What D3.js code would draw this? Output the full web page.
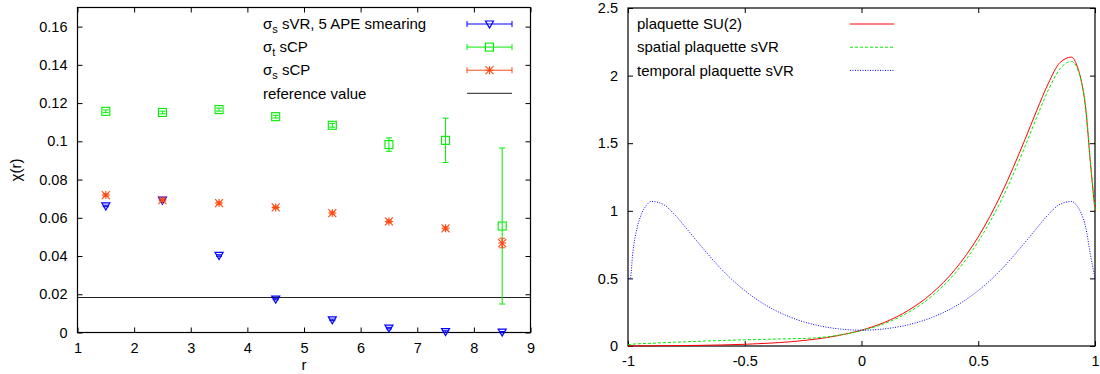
<!DOCTYPE html>
<head>
  <meta charset="utf-8">
  <script src="https://d3js.org/d3.v7.min.js"></script>
  <style>
    body { margin: 0; background: #fff; }
    svg { display: block; }
    text { font-family: "Liberation Sans", Arial, sans-serif; fill: #000; }
    .tick text { font-size: 14.5px; }
  </style>
</head>

<body>
  <svg width="1100" height="374"></svg>
  <script>
    // ---- left panel: chi(r) against r
    var rValues = [1.5, 2.5, 3.5, 4.5, 5.5, 6.5, 7.5, 8.5];
    var sigmaS_sVR = [0.0662, 0.0692, 0.0403, 0.0175, 0.0066, 0.0023, 0.0005, 0.0002];
    var sigmaS_sVR_err = [0.0004, 0.0004, 0.0004, 0.0004, 0.0004, 0.0004, 0.0004, 0.0003];
    var sigmaT_sCP = [0.1157, 0.1151, 0.1166, 0.1129, 0.1084, 0.0983, 0.1005, 0.0557];
    var sigmaT_sCP_err = [0.0007, 0.0007, 0.0008, 0.0007, 0.0010, 0.0035, 0.0116, 0.0408];
    var sigmaS_sCP = [0.0719, 0.0693, 0.0677, 0.0654, 0.0625, 0.0581, 0.0545, 0.0468];
    var sigmaS_sCP_err = [0.0006, 0.0006, 0.0006, 0.0006, 0.0006, 0.0007, 0.0008, 0.0025];
    var referenceValue = 0.0183;
    var leftXTicks = [1, 2, 3, 4, 5, 6, 7, 8, 9];
    var leftYTicks = [0, 0.02, 0.04, 0.06, 0.08, 0.1, 0.12, 0.14, 0.16];

    // ---- right panel: plaquette distributions
    var uValues = [-1, -0.99, -0.98, -0.96, -0.94, -0.92, -0.9, -0.85, -0.8, -0.75, -0.7, -0.6, -0.5, -0.4, -0.3, -0.2, -0.1,
                   0, 0.1, 0.2, 0.3, 0.4, 0.5, 0.6, 0.7, 0.75, 0.8, 0.85, 0.9, 0.92, 0.94, 0.96, 0.98, 1];
    var plaqSU2 = [0, 0, 0.0005, 0.0008, 0.001, 0.0011, 0.0012, 0.0018, 0.0025, 0.0035, 0.0046, 0.0078, 0.0127, 0.0204, 0.032, 0.05, 0.077,
                   0.117, 0.176, 0.263, 0.388, 0.564, 0.807, 1.129, 1.527, 1.74, 1.942, 2.096, 2.137, 2.086, 1.97, 1.76, 1.36, 1.0];
    var plaqSpatial = [0.01, 0.012, 0.014, 0.016, 0.018, 0.019, 0.02, 0.024, 0.028, 0.031, 0.035, 0.041, 0.046, 0.05, 0.054, 0.06, 0.079,
                       0.114, 0.167, 0.248, 0.367, 0.537, 0.772, 1.083, 1.475, 1.69, 1.893, 2.05, 2.105, 2.068, 1.965, 1.77, 1.38, 1.0];
    var plaqTemporal = [0.5, 0.5, 0.68, 0.88, 0.985, 1.043, 1.069, 1.048, 0.972, 0.87, 0.766, 0.568, 0.41, 0.292, 0.21, 0.157, 0.127,
                        0.117, 0.127, 0.157, 0.21, 0.292, 0.41, 0.568, 0.766, 0.87, 0.972, 1.048, 1.069, 1.043, 0.985, 0.88, 0.68, 0.5];
    var rightXTicks = [-1, -0.5, 0, 0.5, 1];
    var rightYTicks = [0, 0.5, 1, 1.5, 2, 2.5];

    var blue = '#0000ff', green = '#00ee00', orange = '#ff4a10', red = '#ff0000';

    var svg = d3.select('svg');

    // scales
    var xL = d3.scaleLinear().domain([1, 9]).range([77.5, 530.5]);
    var yL = d3.scaleLinear().domain([0, 0.17]).range([332.5, 7.5]);
    var xR = d3.scaleLinear().domain([-1, 1]).range([628, 1095]);
    var yR = d3.scaleLinear().domain([0, 2.5]).range([346, 8]);

    function frame(x, y, xTicks, yTicks) {
      var g = svg.append('g').style('color', '#000');
      var x0 = x.range()[0], x1 = x.range()[1], y0 = y.range()[0], y1 = y.range()[1];
      g.append('g').attr('transform', 'translate(0,' + y0 + ')')
        .call(d3.axisBottom(x).tickValues(xTicks).tickSizeInner(-5).tickSizeOuter(0).tickPadding(10).tickFormat(String));
      g.append('g').attr('transform', 'translate(0,' + y1 + ')')
        .call(d3.axisTop(x).tickValues(xTicks).tickSizeInner(-5).tickSizeOuter(0).tickFormat(''));
      g.append('g').attr('transform', 'translate(' + x0 + ',0)')
        .call(d3.axisLeft(y).tickValues(yTicks).tickSizeInner(-5).tickSizeOuter(0).tickPadding(10).tickFormat(String));
      g.append('g').attr('transform', 'translate(' + x1 + ',0)')
        .call(d3.axisRight(y).tickValues(yTicks).tickSizeInner(-5).tickSizeOuter(0).tickFormat(''));
      g.selectAll('.domain').remove();
      g.append('rect')
        .attr('x', x0).attr('y', y1).attr('width', x1 - x0).attr('height', y0 - y1)
        .attr('fill', 'none').attr('stroke', '#000').attr('stroke-width', 1.2);
    }

    frame(xL, yL, leftXTicks, leftYTicks);
    frame(xR, yR, rightXTicks, rightYTicks);

    // axis titles of the left panel
    svg.append('text').attr('transform', 'translate(21,170) rotate(-90)')
      .attr('text-anchor', 'middle').style('font-size', '15px').text('χ(r)');
    svg.append('text').attr('x', 304).attr('y', 370)
      .attr('text-anchor', 'middle').style('font-size', '15px').text('r');

    // markers
    function triangle(g, cx, cy, c) {
      g.append('path').attr('d', 'M' + (cx - 4) + ',' + (cy - 3) + 'L' + (cx + 4) + ',' + (cy - 3) + 'L' + cx + ',' + (cy + 4) + 'Z')
        .attr('fill', 'none').attr('stroke', c).attr('stroke-width', 1.2);
    }
    function square(g, cx, cy, c) {
      g.append('rect').attr('x', cx - 4).attr('y', cy - 4).attr('width', 8).attr('height', 8)
        .attr('fill', 'none').attr('stroke', c).attr('stroke-width', 1.1);
    }
    function star(g, cx, cy, c) {
      var s = 4;
      g.append('path')
        .attr('d', 'M' + (cx - s) + ',' + cy + 'H' + (cx + s) + 'M' + cx + ',' + (cy - s) + 'V' + (cy + s) +
                   'M' + (cx - s) + ',' + (cy - s) + 'L' + (cx + s) + ',' + (cy + s) +
                   'M' + (cx - s) + ',' + (cy + s) + 'L' + (cx + s) + ',' + (cy - s))
        .attr('stroke', c).attr('stroke-width', 1.1);
    }

    function errorSeries(vals, errs, color, marker) {
      var g = svg.append('g');
      rValues.forEach(function(r, i) {
        var cx = xL(r), top = yL(vals[i] + errs[i]), bot = yL(vals[i] - errs[i]);
        g.append('path')
          .attr('d', 'M' + cx + ',' + top + 'V' + bot + 'M' + (cx - 3) + ',' + top + 'H' + (cx + 3) + 'M' + (cx - 3) + ',' + bot + 'H' + (cx + 3))
          .attr('stroke', color).attr('stroke-width', 1);
        marker(g, cx, yL(vals[i]), color);
      });
    }

    // reference line
    svg.append('line').attr('x1', xL(1)).attr('x2', xL(9))
      .attr('y1', yL(referenceValue)).attr('y2', yL(referenceValue))
      .attr('stroke', '#222').attr('stroke-width', 1);

    errorSeries(sigmaS_sVR, sigmaS_sVR_err, blue, triangle);
    errorSeries(sigmaT_sCP, sigmaT_sCP_err, green, square);
    errorSeries(sigmaS_sCP, sigmaS_sCP_err, orange, star);

    // left legend
    var legL = [
      {main: 'σ', sub: 's', rest: ' sVR, 5 APE smearing', color: blue, marker: triangle},
      {main: 'σ', sub: 't', rest: ' sCP', color: green, marker: square},
      {main: 'σ', sub: 's', rest: ' sCP', color: orange, marker: star},
      {main: 'reference value', sub: '', rest: '', color: '#222', marker: null}
    ];
    legL.forEach(function(d, i) {
      var y = 24 + i * 23.1;
      var t = svg.append('text').attr('x', 263).attr('y', y).attr('dy', '0.35em').style('font-size', '15px');
      t.append('tspan').text(d.main);
      if (d.sub) {
        t.append('tspan').attr('dy', 4).style('font-size', '11px').text(d.sub);
        t.append('tspan').attr('dy', -4).text(d.rest);
      }
      var g = svg.append('g');
      if (d.marker) {
        g.append('path')
          .attr('d', 'M467,' + y + 'H512M467,' + (y - 3) + 'V' + (y + 3) + 'M512,' + (y - 3) + 'V' + (y + 3))
          .attr('stroke', d.color).attr('stroke-width', 1);
        d.marker(g, 489.5, y, d.color);
      } else {
        g.append('line').attr('x1', 467).attr('x2', 512).attr('y1', y).attr('y2', y)
          .attr('stroke', d.color).attr('stroke-width', 1);
      }
    });

    // right panel curves
    var curves = [
      {name: 'plaquette SU(2)', vals: plaqSU2, color: red, dash: null},
      {name: 'spatial plaquette sVR', vals: plaqSpatial, color: green, dash: '3,2'},
      {name: 'temporal plaquette sVR', vals: plaqTemporal, color: blue, dash: '1,1.5'}
    ];
    var line = d3.line().curve(d3.curveMonotoneX)
      .x(function(d) { return xR(d[0]); })
      .y(function(d) { return yR(d[1]); });

    curves.forEach(function(c, i) {
      svg.append('path')
        .attr('d', line(uValues.map(function(u, k) { return [u, c.vals[k]]; })))
        .attr('fill', 'none').attr('stroke', c.color).attr('stroke-width', 1)
        .attr('stroke-dasharray', c.dash);
      var y = 24 + i * 23.2;
      svg.append('text').attr('x', 637).attr('y', y).attr('dy', '0.35em').style('font-size', '15px').text(c.name);
      svg.append('line').attr('x1', 850).attr('x2', 894).attr('y1', y).attr('y2', y)
        .attr('stroke', c.color).attr('stroke-width', 1).attr('stroke-dasharray', c.dash);
    });
  </script>
</body>
